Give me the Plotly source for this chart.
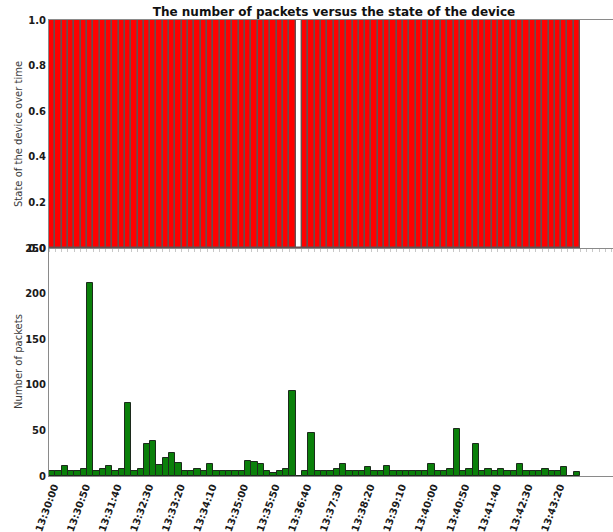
import pandas as pd
import plotly.graph_objects as go
from plotly.subplots import make_subplots

# 10-second capture bins starting at 13:30:00
bin_start = "2015-03-01 13:30:00"
bin_seconds = 10
n_bins = 84

# device state per bin (1 = on, 0 = off)
device_state = [
    1, 1, 1, 1, 1, 1, 1, 1, 1, 1, 1, 1, 1, 1, 1, 1, 1, 1, 1, 1,
    1, 1, 1, 1, 1, 1, 1, 1, 1, 1, 1, 1, 1, 1, 1, 1, 1, 1, 1, 0,
    1, 1, 1, 1, 1, 1, 1, 1, 1, 1, 1, 1, 1, 1, 1, 1, 1, 1, 1, 1,
    1, 1, 1, 1, 1, 1, 1, 1, 1, 1, 1, 1, 1, 1, 1, 1, 1, 1, 1, 1,
    1, 1, 1, 1,
]

# packets captured per bin
packet_counts = [
    5, 5, 11, 5, 5, 8, 212, 5, 8, 11, 5, 8, 80, 5, 8, 35, 38, 12, 20, 25,
    14, 5, 5, 8, 5, 13, 5, 5, 5, 5, 5, 16, 15, 13, 5, 3, 5, 8, 93, 0,
    5, 47, 5, 5, 5, 8, 13, 5, 5, 5, 10, 5, 5, 11, 5, 5, 5, 6, 5, 5,
    13, 5, 5, 8, 52, 5, 8, 35, 5, 8, 6, 8, 5, 5, 13, 5, 5, 5, 8, 5,
    5, 10, 0, 4,
]

x_range = ["2015-03-01 13:30:00", "2015-03-01 13:44:52"]
label_every = 5  # one time label per 5 bins (50 s)
state_ticks = [0.0, 0.2, 0.4, 0.6, 0.8, 1.0]
packet_ticks = [0, 50, 100, 150, 200, 250]

times = pd.date_range(bin_start, periods=n_bins, freq=f"{bin_seconds}s")
width_ms = bin_seconds * 1000
label_times = times[::label_every]

fig = make_subplots(rows=2, cols=1, shared_xaxes=True, vertical_spacing=0)

fig.add_trace(go.Bar(
    x=times, y=device_state, width=width_ms, offset=0,
    marker=dict(color="#ff0000", line=dict(color="#665050", width=1.4)),
    showlegend=False,
), row=1, col=1)

fig.add_trace(go.Bar(
    x=times, y=packet_counts, width=width_ms, offset=0,
    marker=dict(color="#0a800a", line=dict(color="#1c2a1c", width=1)),
    showlegend=False,
), row=2, col=1)

tick_font = dict(family="DejaVu Sans", size=10, color="#1a1a1a", weight="bold")
axis_line = "#8a8a8a"

fig.update_xaxes(range=x_range, showgrid=False, zeroline=False)
fig.update_xaxes(
    row=1, col=1, showline=True, linecolor=axis_line, linewidth=1, mirror=True,
    ticks="outside", ticklen=3, tickcolor="#c8c8c8",
    tick0=bin_start, dtick=width_ms, showticklabels=False,
)
fig.update_xaxes(
    row=2, col=1, showline=True, linecolor=axis_line, linewidth=1,
    ticks="", tickvals=label_times,
    ticktext=[t.strftime("%H:%M:%S") for t in label_times],
    tickangle=-70, tickfont=tick_font, ticklabelshift=5,
)
fig.update_yaxes(
    row=1, col=1, range=[0, 1], tickvals=state_ticks,
    ticktext=[f"{v:.1f}" for v in state_ticks],
    showline=True, linecolor=axis_line, linewidth=1, showgrid=False,
    zeroline=False, ticks="", tickfont=tick_font,
)
fig.update_yaxes(
    row=2, col=1, range=[0, 250], tickvals=packet_ticks,
    showline=True, linecolor=axis_line, linewidth=1, showgrid=False,
    zeroline=False, ticks="", tickfont=tick_font,
)

plot_w = 613 - 49
label_x = (18 - 49) / plot_w
fig.add_annotation(
    text="State of the device over time", textangle=-90,
    xref="paper", yref="paper", x=label_x, y=0.75, xanchor="center", yanchor="middle",
    showarrow=False, font=dict(family="DejaVu Sans", size=10, color="#3a3a3a"),
)
fig.add_annotation(
    text="Number of packets", textangle=-90,
    xref="paper", yref="paper", x=label_x, y=0.25, xanchor="center", yanchor="middle",
    showarrow=False, font=dict(family="DejaVu Sans", size=10, color="#3a3a3a"),
)

fig.update_layout(
    width=613, height=532,
    margin=dict(l=49, r=0, t=20, b=56),
    paper_bgcolor="white", plot_bgcolor="white",
    bargap=0,
    title=dict(
        text="The number of packets versus the state of the device",
        x=334 / 613, xanchor="center", y=1 - 12 / 532, yanchor="middle",
        font=dict(family="DejaVu Sans", size=12, color="#111111", weight="bold"),
    ),
)

fig.write_html("out.html")
